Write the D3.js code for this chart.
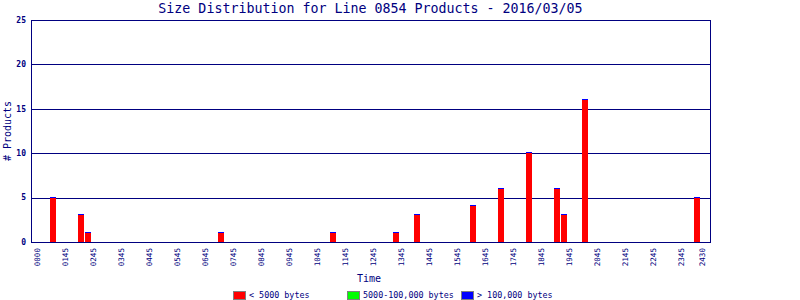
<!DOCTYPE html>
<html>
<head>
<meta charset="utf-8">
<script src="https://cdn.jsdelivr.net/npm/d3@7"></script>
<style>
  body { margin: 0; background: #fff; }
  svg { display: block; }
  text { font-family: "DejaVu Sans Mono", monospace; fill: #000080; }
</style>
</head>
<body>
<svg width="800" height="300"></svg>
<script>
"use strict";

// 15-minute bins that had products (hhmm), and counts per size class
const binTimes = ["0115", "0215", "0230", "0715", "1115", "1330", "1415",
  "1615", "1715", "1815", "1915", "1930", "2015", "2415"];
const smallCounts = [5, 3, 1, 1, 1, 1, 3, 4, 6, 10, 6, 3, 16, 5];
const mediumCounts = [0, 0, 0, 0, 0, 0, 0, 0, 0, 0, 0, 0, 0, 0];
const largeCounts = [0, 0, 0, 0, 0, 0, 0, 0, 0, 0, 0, 0, 0, 0];

const seriesNames = ["< 5000 bytes", "5000-100,000 bytes", "> 100,000 bytes"];
const seriesColors = ["#ff0000", "#00ff00", "#0000ff"];

// x tick labels and where they sit (minutes of the day)
const tickLabels = ["0000", "0145", "0245", "0345", "0445", "0545", "0645",
  "0745", "0845", "0945", "1045", "1145", "1245", "1345", "1445", "1545",
  "1645", "1745", "1845", "1945", "2045", "2145", "2245", "2345", "2430"];
const tickMinutes = [45, 105, 165, 225, 285, 345, 405, 465, 525, 585, 645,
  705, 765, 825, 885, 945, 1005, 1065, 1125, 1185, 1245, 1305, 1365, 1425, 1470];
const yTicks = [0, 5, 10, 15, 20, 25];

const navy = "#000080";
const plot = { left: 31, right: 710, top: 20, bottom: 242 };

const toMinutes = (s) => +s.slice(0, 2) * 60 + +s.slice(2);

const rows = binTimes.map((t, i) => ({
  t: toMinutes(t),
  small: smallCounts[i],
  medium: mediumCounts[i],
  large: largeCounts[i]
}));

const x = d3.scaleLinear().domain([0, 1440]).range([15, 687]);
const y = d3.scaleLinear().domain([0, 25]).range([plot.bottom, plot.top]);
const barW = 6;

const svg = d3.select("svg");

// title
svg.append("text")
  .attr("x", (plot.left + plot.right) / 2)
  .attr("y", 13)
  .attr("text-anchor", "middle")
  .style("font-size", "13.3px")
  .text("Size Distribution for Line 0854 Products - 2016/03/05");

// horizontal grid lines
svg.append("g")
  .selectAll("line")
  .data(yTicks.filter((v) => v > 0 && v < 25))
  .enter()
  .append("line")
  .attr("x1", plot.left)
  .attr("x2", plot.right)
  .attr("y1", (d) => Math.round(y(d)) + 0.5)
  .attr("y2", (d) => Math.round(y(d)) + 0.5)
  .style("stroke", navy);

// stacked bars
const stack = d3.stack().keys(["small", "medium", "large"]);
const layers = stack(rows);

svg.append("g")
  .selectAll("g")
  .data(layers)
  .enter()
  .append("g")
  .style("fill", (d, i) => seriesColors[i])
  .selectAll("rect")
  .data((d) => d.filter((p) => p[1] > p[0]))
  .enter()
  .append("rect")
  .attr("x", (d) => Math.round(x(d.data.t)))
  .attr("width", barW)
  .attr("y", (d) => Math.round(y(d[1])))
  .attr("height", (d) => Math.round(y(d[0])) - Math.round(y(d[1])));

// thin cap of the top series drawn on every bar
svg.append("g")
  .selectAll("rect")
  .data(rows)
  .enter()
  .append("rect")
  .attr("x", (d) => Math.round(x(d.t)))
  .attr("width", barW)
  .attr("y", (d) => Math.round(y(d.small + d.medium + d.large)) - 1)
  .attr("height", 1)
  .style("fill", seriesColors[2]);

// frame
svg.append("rect")
  .attr("x", plot.left + 0.5)
  .attr("y", plot.top + 0.5)
  .attr("width", plot.right - plot.left)
  .attr("height", plot.bottom - plot.top)
  .style("fill", "none")
  .style("stroke", navy);

// y tick labels
svg.append("g")
  .selectAll("text")
  .data(yTicks)
  .enter()
  .append("text")
  .attr("x", 26)
  .attr("y", (d) => y(d))
  .attr("dy", "0.35em")
  .attr("text-anchor", "end")
  .style("font-size", "8px")
  .style("font-weight", "bold")
  .text((d) => d);

// x tick labels, rotated
svg.append("g")
  .selectAll("text")
  .data(tickMinutes)
  .enter()
  .append("text")
  .attr("transform", (d) => `translate(${x(d) + 1.5}, 248) rotate(-90)`)
  .attr("dy", "0.35em")
  .attr("text-anchor", "end")
  .style("font-size", "7.6px")
  .text((d, i) => tickLabels[i]);

// axis titles
svg.append("text")
  .attr("x", 369)
  .attr("y", 282)
  .attr("text-anchor", "middle")
  .style("font-size", "10px")
  .text("Time");

svg.append("text")
  .attr("transform", `translate(7, ${(plot.top + plot.bottom) / 2}) rotate(-90)`)
  .attr("dy", "0.35em")
  .attr("text-anchor", "middle")
  .style("font-size", "10px")
  .text("# Products");

// legend
const legend = svg.append("g")
  .selectAll("g")
  .data(seriesNames)
  .enter()
  .append("g")
  .attr("transform", (d, i) => `translate(${233 + i * 114}, 291)`);

legend.append("rect")
  .attr("x", 0.5)
  .attr("y", 0.5)
  .attr("width", 12)
  .attr("height", 8)
  .style("fill", (d, i) => seriesColors[i])
  .style("stroke", "#808080");

legend.append("text")
  .attr("x", 16)
  .attr("y", 7)
  .style("font-size", "8.4px")
  .text((d) => d);
</script>
</body>
</html>
